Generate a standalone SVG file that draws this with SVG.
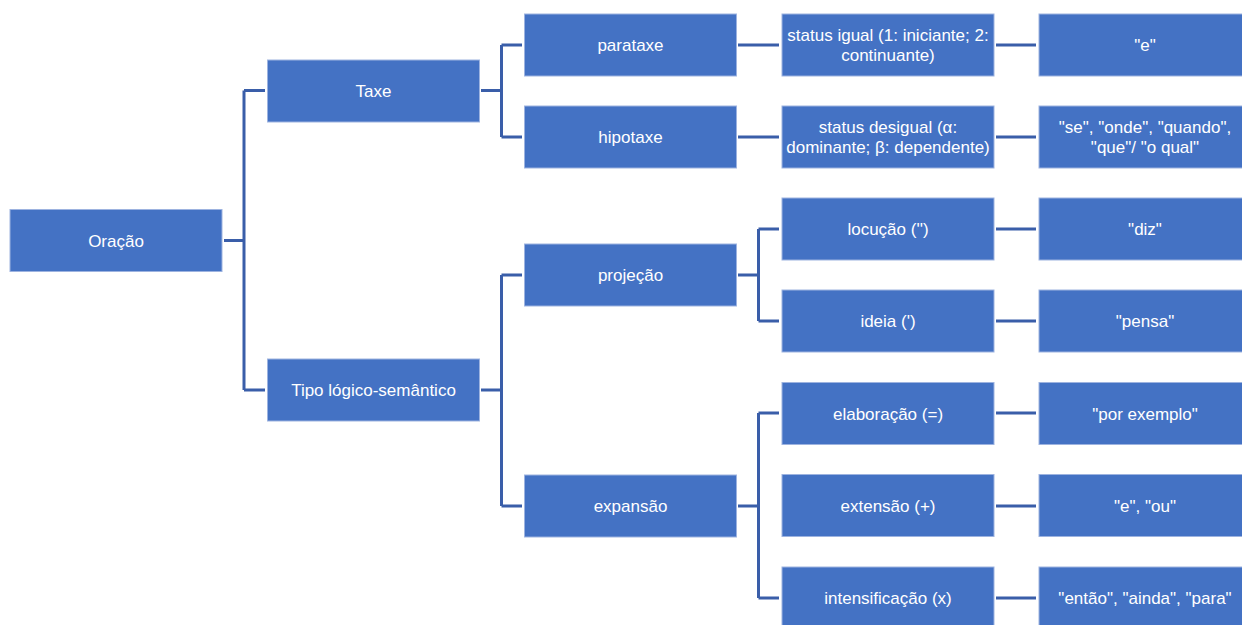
<svg xmlns="http://www.w3.org/2000/svg" width="1242" height="625" viewBox="0 0 1242 625">
<style>
.b rect{fill:#4472c4;stroke:#9db3e0;stroke-width:1}
.b text{fill:#fff;font-family:"Liberation Sans",Arial,sans-serif;font-size:17px;text-anchor:middle}
.c path{fill:none;stroke:#3a5ea9;stroke-width:3}
</style>
<rect width="1242" height="625" fill="#fff"/>
<g class="c" id="connectors">
<path d="M224 240.5H244M244 90.5V390M244 90.5H265M244 390H265"/>
<path d="M481 90.5H501.5M501.5 45V137M501.5 45H522M501.5 137H522"/>
<path d="M481 390H501.5M501.5 275V506M501.5 275H522M501.5 506H522"/>
<path d="M738 45H779M738 137H779"/>
<path d="M738 275H758.5M758.5 229V321M758.5 229H779M758.5 321H779"/>
<path d="M738 506H758.5M758.5 413V598M758.5 413H779M758.5 598H779"/>
<path d="M996 45H1036M996 137H1036M996 229H1036M996 321H1036M996 413H1036M996 506H1036M996 598H1036"/>
</g>
<g class="b" id="oracao"><rect x="10" y="209.5" width="212" height="62"/><text x="116" y="246.5">Oração</text></g>
<g class="b" id="taxe"><rect x="267.5" y="60" width="212" height="62"/><text x="373.5" y="96.5">Taxe</text></g>
<g class="b" id="tipo"><rect x="267.5" y="359" width="212" height="62"/><text x="373.5" y="396">Tipo lógico-semântico</text></g>
<g class="b" id="parataxe"><rect x="524.5" y="14" width="212" height="62"/><text x="630.5" y="51">parataxe</text></g>
<g class="b" id="hipotaxe"><rect x="524.5" y="106" width="212" height="62"/><text x="630.5" y="143">hipotaxe</text></g>
<g class="b" id="projecao"><rect x="524.5" y="244" width="212" height="62"/><text x="630.5" y="281">projeção</text></g>
<g class="b" id="expansao"><rect x="524.5" y="475" width="212" height="62"/><text x="630.5" y="512">expansão</text></g>
<g class="b" id="status-igual"><rect x="782" y="14" width="212" height="62"/><text x="888" y="41">status igual (1: iniciante; 2:</text><text x="888" y="61">continuante)</text></g>
<g class="b" id="status-desigual"><rect x="782" y="106" width="212" height="62"/><text x="888" y="133">status desigual (α:</text><text x="888" y="153">dominante; β: dependente)</text></g>
<g class="b" id="locucao"><rect x="782" y="198" width="212" height="62"/><text x="888" y="235">locução ('')</text></g>
<g class="b" id="ideia"><rect x="782" y="290" width="212" height="62"/><text x="888" y="327">ideia (')</text></g>
<g class="b" id="elaboracao"><rect x="782" y="382.5" width="212" height="62"/><text x="888" y="419.5">elaboração (=)</text></g>
<g class="b" id="extensao"><rect x="782" y="474.5" width="212" height="62"/><text x="888" y="511.5">extensão (+)</text></g>
<g class="b" id="intensificacao"><rect x="782" y="567" width="212" height="62"/><text x="888" y="604">intensificação (x)</text></g>
<g class="b" id="e"><rect x="1039" y="14" width="212" height="62"/><text x="1145" y="51">"e"</text></g>
<g class="b" id="se"><rect x="1039" y="106" width="212" height="62"/><text x="1145" y="133">"se", "onde", "quando",</text><text x="1145" y="153">"que"/ "o qual"</text></g>
<g class="b" id="diz"><rect x="1039" y="198" width="212" height="62"/><text x="1145" y="235">"diz"</text></g>
<g class="b" id="pensa"><rect x="1039" y="290" width="212" height="62"/><text x="1145" y="327">"pensa"</text></g>
<g class="b" id="por-exemplo"><rect x="1039" y="382.5" width="212" height="62"/><text x="1145" y="419.5">"por exemplo"</text></g>
<g class="b" id="e-ou"><rect x="1039" y="474.5" width="212" height="62"/><text x="1145" y="511.5">"e", "ou"</text></g>
<g class="b" id="entao"><rect x="1039" y="567" width="212" height="62"/><text x="1145" y="604">"então", "ainda", "para"</text></g>
</svg>
